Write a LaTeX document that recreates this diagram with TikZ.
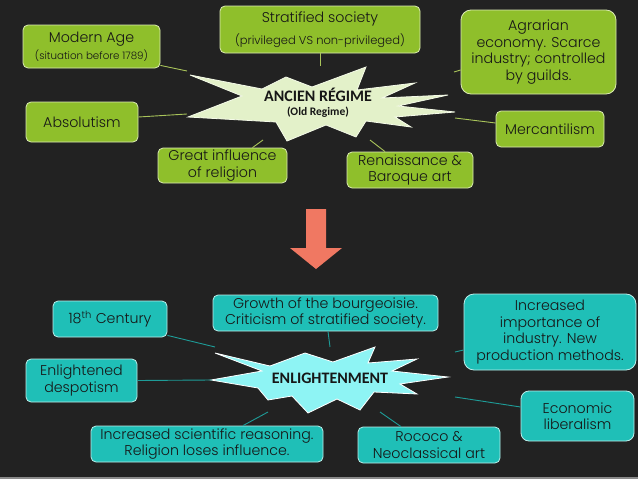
\documentclass[tikz,border=0pt]{standalone}
\usepackage{fontspec}
\setmainfont{Poppins}[UprightFont=* Light]
\newfontfamily\starfont{Carlito}
\definecolor{bg}{HTML}{222222}
\definecolor{gfill}{HTML}{8FBF2B}
\definecolor{gedge}{HTML}{DCEBB4}
\definecolor{tfill}{HTML}{1FBFB7}
\definecolor{tedge}{HTML}{BDEFEB}
\definecolor{gstar}{HTML}{E3F1C9}
\definecolor{gstaredge}{HTML}{F4FAE8}
\definecolor{tstar}{HTML}{8EF4F4}
\definecolor{gline}{HTML}{A9C45A}
\definecolor{tline}{HTML}{1E9C98}
\definecolor{arrowc}{HTML}{F07862}
\definecolor{txt}{HTML}{161616}
\definecolor{stript}{HTML}{8A8A8A}
\tikzset{
  box/.style={draw=gedge, line width=0.8pt, fill=gfill, rounded corners=5pt, inner sep=0pt,
    align=center, text=txt, font=\fontsize{14.2}{16.5}\selectfont},
  gbox/.style={box},
  tbox/.style={box, draw=tedge, fill=tfill},
  gcon/.style={draw=gline, line width=0.9pt},
  tcon/.style={draw=tline, line width=0.9pt},
  startxt/.style={inner sep=0pt, text=txt, font=\starfont\bfseries\fontsize{16}{18}\selectfont},
}
\begin{document}
\begin{tikzpicture}[x=1pt,y=-1pt]
\useasboundingbox (0,0) rectangle (638,479);
\fill[bg] (0,0) rectangle (638,479);
\fill[stript] (0,477) rectangle (638,479);

% ---------- top star ----------
\draw[fill=gstar, draw=gstaredge, line width=0.8pt]
 (190,75) -- (262,89) -- (286,77) -- (312,87) -- (366,67) -- (357,90) -- (415,83) -- (382,98)
 -- (448,95) -- (398,106) -- (455,112) -- (395,117) -- (411,127) -- (366,121) -- (356,137)
 -- (326,125) -- (287,141) -- (276,122) -- (188,117) -- (242,96) -- cycle;
\node[startxt] (ancien) at (318,95) {ANCIEN RÉGIME};
\node[startxt, font=\starfont\bfseries\fontsize{11.5}{13}\selectfont] (oldreg) at (318,112) {(Old Regime)};

% ---------- top boxes ----------
\node[gbox, minimum width=137pt, minimum height=43pt] (modern) at (91.5,46.5)
  {Modern Age\\[1pt]{\fontsize{10.3}{11}\selectfont(situation before 1789)}};
\node[gbox, minimum width=200pt, minimum height=47pt] (strat) at (320,29.5)
  {Stratified society\\[5pt]{\fontsize{11.5}{12}\selectfont(privileged VS non-privileged)}};
\node[gbox, rounded corners=10pt, minimum width=155pt, minimum height=84pt] (agr) at (538.5,52)
  {Agrarian\\economy. Scarce\\industry; controlled\\by guilds.};
\node[gbox, minimum width=112pt, minimum height=40pt] (abs) at (82,122) {Absolutism};
\node[gbox, minimum width=129pt, minimum height=35pt] (great) at (222.5,165.5) {Great influence\\of religion};
\node[gbox, minimum width=126pt, minimum height=36pt] (ren) at (410,170) {Renaissance \&\\Baroque art};
\node[gbox, minimum width=108pt, minimum height=36pt] (merc) at (550,129) {Mercantilism};

% top connector ends
\coordinate (sA) at (187,71);
\coordinate (sB) at (187,114);
\coordinate (sC) at (263,140);
\coordinate (sD) at (320,66);
\coordinate (sE) at (454,72);
\coordinate (sF) at (455,118);
\coordinate (sG) at (370,140);
\draw[gcon] ([yshift=3pt]modern.south east) -- (sA);
\draw[gcon] ([yshift=5pt]abs.east) -- (sB);
\draw[gcon] ([xshift=30pt]great.north) -- (sC);
\draw[gcon] (strat.south) -- (sD);
\draw[gcon] ([yshift=-18pt]agr.west) -- (sE);
\draw[gcon] ([yshift=6pt]merc.west) -- (sF);
\draw[gcon] ([xshift=-25pt]ren.north) -- (sG);

% ---------- arrow ----------
\fill[arrowc] (306,209) -- (326,209) -- (326,248) -- (342,248) -- (316,269) -- (290,248) -- (306,248) -- cycle;

% ---------- bottom star ----------
\draw[fill=tstar, draw=white, line width=0.8pt]
 (215,353) -- (270,366) -- (305,353) -- (333,362) -- (375,347) -- (368,363) -- (417,359)
 -- (392,371) -- (448,377) -- (400,384) -- (417,394) -- (374,392) -- (360,410) -- (337,399)
 -- (308,413) -- (292,396) -- (268,400) -- (258,388) -- (211,380) -- (262,371) -- cycle;
\node[startxt, font=\starfont\bfseries\fontsize{16}{18}\selectfont] (enl) at (330,378) {ENLIGHTENMENT};

% ---------- bottom boxes ----------
\node[tbox, minimum width=114pt, minimum height=36pt] (c18) at (110,319) {18\textsuperscript{th} Century};
\node[tbox, minimum width=225pt, minimum height=36pt] (growth) at (325.5,313)
  {Growth of the bourgeoisie.\\Criticism of stratified society.};
\node[tbox, rounded corners=10pt, minimum width=172pt, minimum height=76pt] (incr) at (550,332)
  {Increased\\importance of\\industry. New\\production methods.};
\node[tbox, minimum width=111pt, minimum height=43pt] (desp) at (81.5,380.5) {Enlightened\\despotism};
\node[tbox, rounded corners=8pt, minimum width=113pt, minimum height=50pt] (econ) at (577.5,416) {Economic\\liberalism};
\node[tbox, minimum width=232pt, minimum height=36pt] (sci) at (207,444)
  {Increased scientific reasoning.\\Religion loses influence.};
\node[tbox, minimum width=142pt, minimum height=36pt] (roc) at (429,445) {Rococo \&\\Neoclassical art};

% bottom connector ends
\coordinate (tA) at (215,347);
\coordinate (tB) at (212,380);
\coordinate (tC) at (268,412);
\coordinate (tD) at (330,347);
\coordinate (tE) at (455,352);
\coordinate (tF) at (455,397);
\coordinate (tG) at (380,412);
\draw[tcon] ([yshift=2pt]c18.south east) -- (tA);
\draw[tcon] (desp.east) -- (tB);
\draw[tcon] ([xshift=36pt]sci.north) -- (tC);
\draw[tcon] ([xshift=2.5pt]growth.south) -- (tD);
\draw[tcon] ([yshift=-18pt]incr.west) -- (tE);
\draw[tcon] ([yshift=9pt]econ.west) -- (tF);
\draw[tcon] ([xshift=-28pt]roc.north) -- (tG);
\end{tikzpicture}
\end{document}
